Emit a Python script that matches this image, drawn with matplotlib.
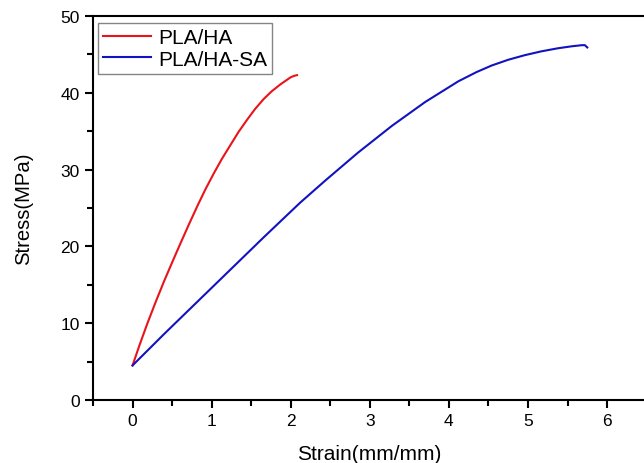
import matplotlib
matplotlib.use("Agg")
import matplotlib.pyplot as plt
from matplotlib.ticker import MultipleLocator

plt.rcParams['font.family'] = ['Liberation Sans', 'DejaVu Sans']

# Data
pla_ha_strain = [0, 0.09, 0.185, 0.29, 0.396, 0.5, 0.606, 0.71, 0.817, 0.92, 1.027,
                 1.13, 1.238, 1.34, 1.449, 1.55, 1.659, 1.76, 1.87, 1.94, 1.996, 2.04, 2.08]
pla_ha_stress = [4.5, 7.2, 9.9, 12.7, 15.4, 17.9, 20.4, 22.8, 25.2, 27.4, 29.5,
                 31.4, 33.2, 34.9, 36.5, 37.9, 39.2, 40.2, 41.1, 41.6, 42.0, 42.2, 42.3]

pla_ha_sa_strain = [0, 0.4, 1.03, 1.66, 2.12, 2.44, 2.85, 3.28, 3.7, 4.12, 4.35, 4.54,
                    4.75, 4.96, 5.17, 5.38, 5.55, 5.68, 5.72, 5.75]
pla_ha_sa_stress = [4.5, 8.6, 14.9, 21.2, 25.7, 28.6, 32.2, 35.7, 38.8, 41.5, 42.7, 43.55,
                    44.3, 44.9, 45.4, 45.8, 46.05, 46.2, 46.2, 45.9]

labels = ["PLA/HA", "PLA/HA-SA"]
colors = ["#e8141a", "#1212c0"]

fig = plt.figure(figsize=(6.44, 4.64), dpi=100)
ax_left, ax_right, ax_top, ax_bottom = 93, 646.6, 17, 401
ax = fig.add_axes([ax_left/644, 1 - ax_bottom/464, (ax_right - ax_left)/644, (ax_bottom - ax_top)/464])

ax.plot(pla_ha_strain, pla_ha_stress, color=colors[0], lw=1.5, label=labels[0],
        solid_joinstyle='round')
ax.plot(pla_ha_sa_strain, pla_ha_sa_stress, color=colors[1], lw=1.5, label=labels[1],
        solid_joinstyle='round')

ax.set_xlim(-0.5, 6.5)
ax.set_ylim(0, 50)
ax.xaxis.set_major_locator(MultipleLocator(1))
ax.xaxis.set_minor_locator(MultipleLocator(0.5))
ax.yaxis.set_major_locator(MultipleLocator(10))
ax.yaxis.set_minor_locator(MultipleLocator(5))
ax.tick_params(which='major', direction='out', length=6, width=1.5, labelsize=12.5, pad=3.5)
ax.tick_params(which='minor', direction='out', length=4, width=1.5)
ax.tick_params(top=False, right=False)
for s in ax.spines.values():
    s.set_linewidth(1.5)

ax.set_xlabel("Strain(mm/mm)", fontsize=15)
ax.set_ylabel("Stress(MPa)", fontsize=14.6)
w = ax_right - ax_left
h = ax_bottom - ax_top
ax.xaxis.set_label_coords((369 - ax_left) / w, (ax_bottom - 445) / h)
ax.yaxis.set_label_coords((33 - ax_left) / w, 0.5)

leg = ax.legend(loc='upper left', bbox_to_anchor=(5 / w, 1 - 7 / h), fontsize=15,
                frameon=True, fancybox=False, edgecolor='#666666',
                handlelength=2.3, handletextpad=0.34, borderpad=0.25,
                labelspacing=0.12, borderaxespad=0.0)
leg.get_frame().set_linewidth(1.0)

fig.savefig("out.png", dpi=100)
